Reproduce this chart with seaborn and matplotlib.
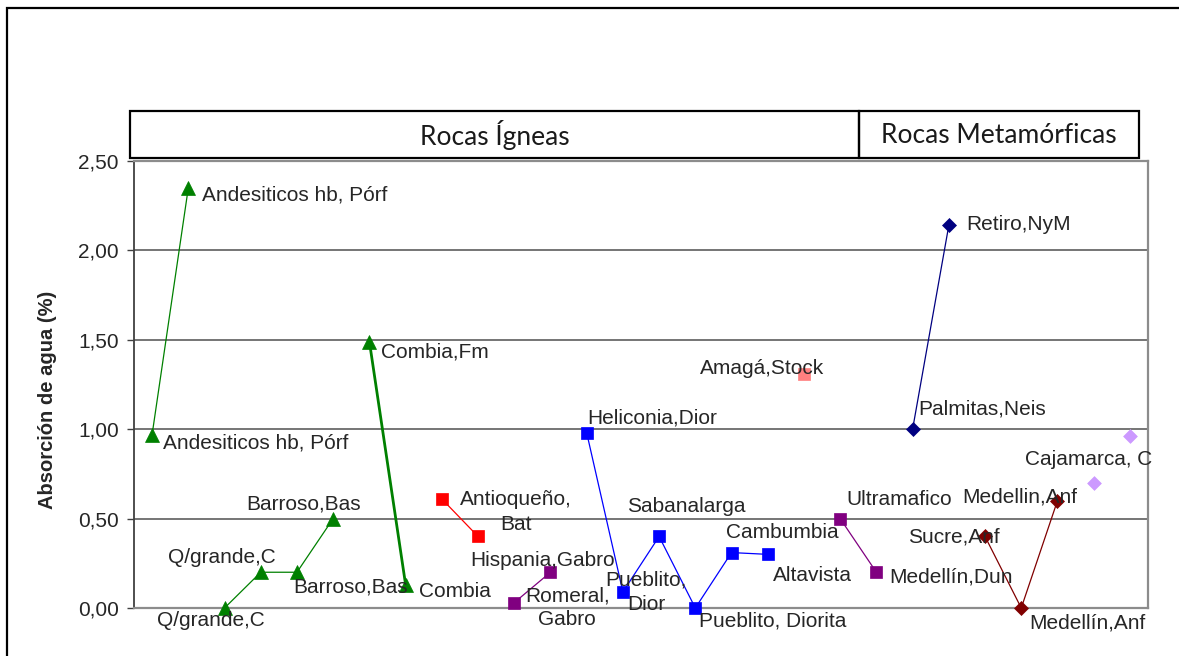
import matplotlib
matplotlib.use("Agg")
import matplotlib.pyplot as plt
from matplotlib.patches import Rectangle
from matplotlib.ticker import FuncFormatter
import seaborn as sns
import pandas as pd

# ---------------- data ----------------
values = [0.97, 2.35, 0.00, 0.20, 0.20, 0.50, 1.49, 0.13, 0.61, 0.40,
          0.03, 0.20, 0.98, 0.09, 0.40, 0.00, 0.31, 0.30, 1.31, 0.50,
          0.20, 1.00, 2.14, 0.40, 0.00, 0.60, 0.70, 0.96]
series = [1, 1, 2, 2, 2, 2, 3, 3, 4, 4,
          5, 5, 6, 6, 6, 6, 6, 6, 7, 8,
          8, 9, 9, 10, 10, 10, 11, 11]
labels = ["Andesiticos hb, Pórf", "Andesiticos hb, Pórf", "Q/grande,C", "Q/grande,C",
          "Barroso,Bas", "Barroso,Bas", "Combia,Fm", "Combia", "Antioqueño,\nBat", "",
          "Romeral,\nGabro", "Hispania,Gabro", "Heliconia,Dior", "Pueblito,\nDior",
          "Sabanalarga", "Pueblito, Diorita", "Cambumbia", "Altavista", "Amagá,Stock",
          "Ultramafico", "Medellín,Dun", "Palmitas,Neis", "Retiro,NyM", "Sucre,Anf",
          "Medellín,Anf", "Medellin,Anf", "Cajamarca, C", ""]
groups = ["Rocas Ígneas", "Rocas Metamórficas"]
y_ticks = [0.0, 0.5, 1.0, 1.5, 2.0, 2.5]
y_title = "Absorción de agua (%)"

df = pd.DataFrame({"x": range(1, len(values) + 1), "y": values,
                   "serie": series, "label": labels})

# ---------------- styles ----------------
series_style = {
    1: dict(color="#008000", marker="^", ms=10, lw=0.9, line=True),
    2: dict(color="#008000", marker="^", ms=10, lw=0.9, line=True),
    3: dict(color="#008000", marker="^", ms=10, lw=2.0, line=True),
    4: dict(color="#FF0000", marker="s", ms=8.5, lw=0.9, line=True),
    5: dict(color="#800080", marker="s", ms=8.5, lw=0.9, line=True),
    6: dict(color="#0000FF", marker="s", ms=8.5, lw=0.9, line=True),
    7: dict(color="#FF8080", marker="s", ms=8.5, lw=0.9, line=False),
    8: dict(color="#800080", marker="s", ms=8.5, lw=0.9, line=True),
    9: dict(color="#000080", marker="D", ms=7, lw=0.9, line=True),
    10: dict(color="#800000", marker="D", ms=7, lw=0.9, line=True),
    11: dict(color="#CC99FF", marker="D", ms=7, lw=0.9, line=False),
}
# label offsets in pixels (dx right, dy down), centre-aligned
label_offsets = [(104, 8), (106, 7), (-14, 12), (-39, -15), (54, 15), (-30, -15),
                 (65, 10), (49, 7), (74, 13), (0, 0), (53, 5), (-8, -12),
                 (66, -15), (23, 0), (27, -30), (77, 13), (51, -20), (45, 21),
                 (-42, -5), (59, -19), (75, 5), (70, -20), (70, -1), (-31, 1),
                 (66, 15), (-38, -4), (-5, -23), (0, 0)]

sns.set_style("white")
plt.rcParams["font.family"] = ["Liberation Sans", "DejaVu Sans"]

W, H = 1179, 656
fig = plt.figure(figsize=(W / 100, H / 100), dpi=100)

def fx(px):
    return px / W

def fy(py):
    return 1 - py / H

ax_l, ax_r, ax_t, ax_b = 134, 1148, 161, 608
ax = fig.add_axes([fx(ax_l), fy(ax_b), fx(ax_r) - fx(ax_l), fy(ax_t) - fy(ax_b)])

ax.set_axisbelow(True)
for s, st in series_style.items():
    sub = df[df["serie"] == s]
    if st["line"]:
        sns.lineplot(data=sub, x="x", y="y", ax=ax, color=st["color"],
                     marker=st["marker"], markersize=st["ms"], linewidth=st["lw"],
                     markeredgecolor=st["color"], markeredgewidth=0.5,
                     legend=False, sort=False, zorder=3, clip_on=False)
    else:
        sns.scatterplot(data=sub, x="x", y="y", ax=ax, color=st["color"],
                        marker=st["marker"], s=st["ms"] ** 2,
                        edgecolor=st["color"], linewidth=0.5, legend=False,
                        zorder=3, clip_on=False)

for (_, row), (dx, dy) in zip(df.iterrows(), label_offsets):
    if row["label"]:
        ax.annotate(row["label"], (row["x"], row["y"]), xytext=(dx, -dy),
                    textcoords="offset pixels", ha="center", va="center",
                    fontsize=15, color="#262626", linespacing=1.35, zorder=4,
                    annotation_clip=False)

ax.set_xlim(0.5, len(values) + 0.5)
ax.set_ylim(0, 2.5)
ax.set_xticks([])
ax.set_yticks(y_ticks)
ax.yaxis.set_major_formatter(FuncFormatter(lambda v, p: f"{v:.2f}".replace(".", ",")))
ax.tick_params(axis="y", direction="out", length=5, width=1, color="#404040",
               labelsize=15, labelcolor="#262626", pad=6, left=True)
ax.yaxis.grid(True, color="#505050", linewidth=1.1)
ax.xaxis.grid(False)
ax.set_xlabel("")
ax.set_ylabel(y_title, fontsize=14.5, fontweight="bold", color="#262626")
ax.yaxis.set_label_coords((57 - ax_l) / (ax_r - ax_l), (ax_b - 400) / (ax_b - ax_t))

for side in ["top", "right", "bottom"]:
    ax.spines[side].set_color("#8c8c8c")
    ax.spines[side].set_linewidth(1.6)
ax.spines["left"].set_color("#404040")
ax.spines["left"].set_linewidth(1.3)

# header boxes
hdr_top, hdr_bot = 111, 158
boxes = [(130, 859), (859, 1139)]
for (x0, x1), name in zip(boxes, groups):
    fig.add_artist(Rectangle((fx(x0), fy(hdr_bot)), fx(x1) - fx(x0), fy(hdr_top) - fy(hdr_bot),
                             transform=fig.transFigure, fill=False, edgecolor="black",
                             linewidth=1.6))
    fig.text(fx((x0 + x1) / 2), fy((hdr_top + hdr_bot) / 2 + 1), name,
             ha="center", va="center", fontsize=19, color="#1a1a1a",
             family=["Lato", "DejaVu Sans"])

# outer frame
fig.add_artist(Rectangle((fx(7), fy(700)), fx(1200 - 7), fy(8) - fy(700),
                         transform=fig.transFigure, fill=False, edgecolor="black",
                         linewidth=1.6))

fig.savefig("out.png", dpi=100)
